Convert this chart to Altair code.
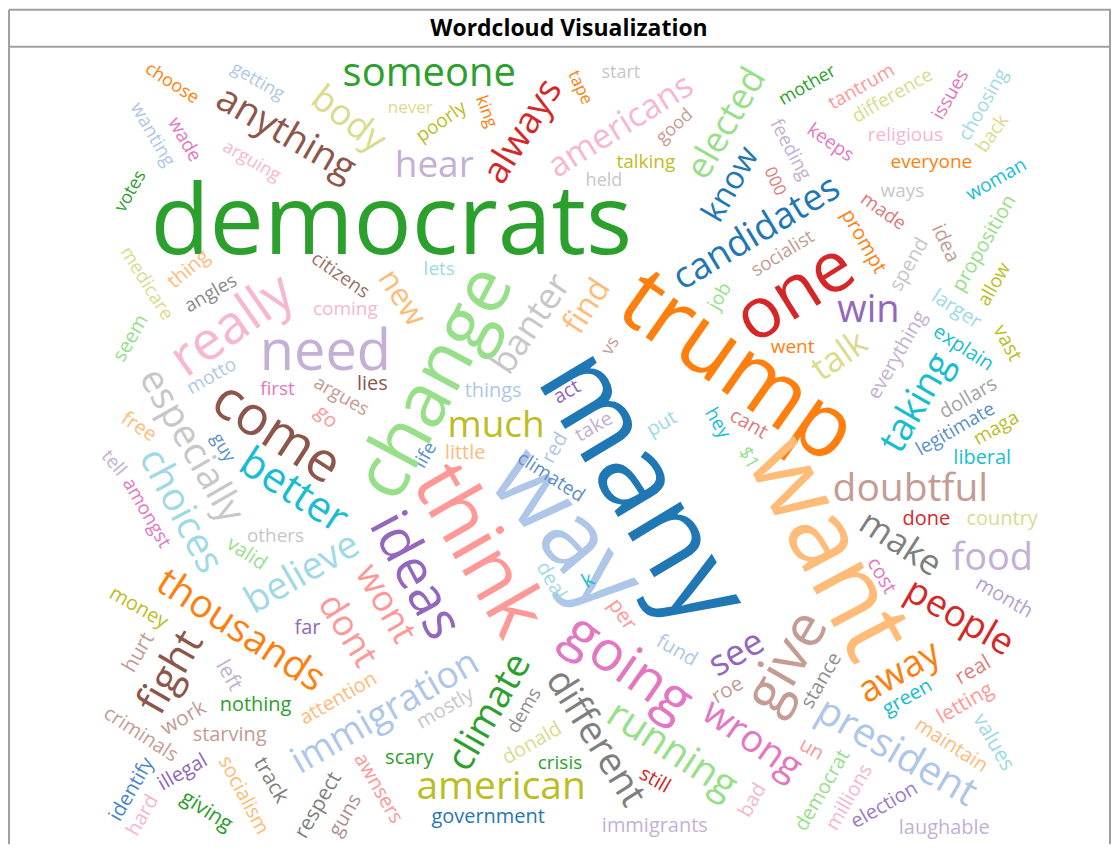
import altair as alt
import pandas as pd

words = ["democrats","someone","choose","getting","anything","body","never","poorly","wanting","wade",
"arguing","votes","hear","start","tape","king","always","americans","good","talking",
"held","elected","know","candidates","000","mother","tantrum","difference","issues","choosing",
"back","feeding","keeps","religious","everyone","woman","ways","made","prompt","spend",
"idea","proposition","allow","socialist","job","medicare","thing","angles","citizens","lets",
"seem","really","need","coming","motto","especially","first","argues","lies","go",
"come","free","guy","better","choices","tell","amongst","others","life","change",
"new","banter","find","trump","one","vs","many","way","things","act",
"much","take","put","little","red","climated","hey","cant","$1","went",
"win","talk","larger","everything","explain","vast","taking","dollars","legitimate","maga",
"liberal","doubtful","done","country","make","food","cost","month","people","want",
"give","stance","away","real","green","letting","president","values","maintain","un",
"democrat","millions","election","laughable","bad","deal","k","per","think","going",
"fund","see","roe","wrong","running","different","still","dems","mostly","climate",
"donald","crisis","american","government","immigrants","valid","believe","ideas","wont","dont",
"thousands","money","far","hurt","fight","left","nothing","attention","immigration","criminals",
"work","starving","scary","identify","illegal","socialism","track","awnsers","hard","giving",
"respect","guns"]

x_pos = [391,429,171,257,285,348,410,441,152,184,
251,130,434,621,580,486,523,621,675,646,
604,727,731,757,775,808,862,893,951,984,
993,791,831,906,932,997,903,884,864,910,
946,985,995,783,720,146,188,210,340,439,
130,232,325,345,211,190,277,341,372,326,
276,138,222,293,180,113,146,275,425,435,
401,531,587,737,796,611,642,565,493,567,
496,594,662,465,555,551,718,749,749,793,
869,840,957,898,964,1008,918,969,956,997,
983,911,927,1003,901,993,882,1005,960,828,
788,822,900,974,908,966,897,994,952,812,
823,850,885,945,753,551,588,622,477,628,
677,737,728,752,672,595,655,524,445,490,
532,560,501,488,655,246,302,415,385,347,
240,138,307,138,170,228,255,338,385,140,
183,229,409,131,182,243,270,378,142,206,
318,345]

y_pos = [224,72,82,80,133,118,106,120,133,138,
160,190,165,71,86,110,130,125,125,161,
180,122,183,232,180,84,85,94,93,103,
132,148,141,133,161,178,190,210,240,263,
242,242,283,252,295,282,268,292,274,268,
337,325,352,308,375,445,388,395,383,416,
432,426,447,490,510,462,512,535,454,382,
297,323,305,367,293,345,488,530,390,391,
425,426,423,452,447,476,422,423,457,346,
310,355,308,354,347,342,402,397,428,427,
457,488,518,518,543,558,575,597,617,548,
662,680,672,670,697,703,752,742,745,749,
790,797,805,828,800,580,580,614,550,667,
650,653,690,740,750,738,780,710,708,712,
743,763,787,817,826,553,573,575,603,630,
630,607,627,652,672,675,705,698,712,734,
718,735,758,789,772,795,780,788,815,811,
805,815]

angles = [0,0,33,30,30,38,0,325,60,60,
30,300,0,0,65,70,302,328,318,0,
0,300,300,329,65,330,330,330,300,300,
305,62,35,0,0,330,0,35,60,300,
65,300,300,328,300,58,320,330,35,0,
300,325,0,0,330,60,0,30,0,45,
33,33,60,33,62,50,60,0,300,298,
57,304,303,35,328,300,59,50,0,330,
0,330,330,0,300,33,60,30,60,0,
0,325,33,300,33,62,300,330,330,330,
0,0,0,0,33,0,60,30,30,62,
300,300,330,330,330,330,30,60,33,30,
300,300,330,0,300,60,330,55,60,35,
30,330,330,35,33,58,30,300,330,300,
330,0,0,0,0,33,330,62,60,58,
33,30,0,300,300,60,0,330,330,33,
330,0,0,300,330,62,60,60,300,33,
300,300]

sizes = [97,40,18,18,38,36,17,19,19,19,
18,18,37,18,17,17,37,34,18,19,
18,36,32,37,17,18,19,19,19,19,
19,19,19,19,19,19,19,19,20,20,
20,20,19,19,19,19,20,19,19,19,
20,54,56,19,19,38,19,19,20,20,
55,20,18,42,39,19,19,19,19,75,
31,36,32,91,71,18,115,97,20,20,
37,20,20,20,20,19,19,20,19,19,
38,35,20,20,20,20,38,20,19,19,
20,39,20,20,35,38,20,20,37,102,
58,20,37,21,20,21,40,21,20,20,
20,20,20,20,20,20,20,21,78,56,
20,36,21,38,40,38,20,19,20,38,
20,19,39,20,20,20,38,55,36,36,
39,20,20,21,42,21,20,20,37,20,
21,20,20,20,20,20,21,20,20,21,
21,20]

colors = ["#2ca02c","#2ca02c","#ff7f0e","#aec7e8","#8c564b","#dbdb8d","#dbdb8d","#bcbd22","#aec7e8","#e377c2",
"#f7b6d2","#2ca02c","#c5b0d5","#c7c7c7","#ff7f0e","#ff7f0e","#d62728","#f7b6d2","#c49c94","#bcbd22",
"#c7c7c7","#98df8a","#1f77b4","#1f77b4","#e07b7b","#2ca02c","#ff9896","#dbdb8d","#e377c2","#9edae5",
"#dbdb8d","#c5b0d5","#e377c2","#f7b6d2","#ff7f0e","#17becf","#c7c7c7","#e07b7b","#ff7f0e","#c7c7c7",
"#c49c94","#98df8a","#bcbd22","#c49c94","#98df8a","#dbdb8d","#ffbb78","#8a8a8a","#9c6f66","#9edae5",
"#98df8a","#f7b6d2","#c5b0d5","#f7b6d2","#aec7e8","#c7c7c7","#e377c2","#c49c94","#8c564b","#ff9896",
"#8c564b","#ffbb78","#5b8fc9","#17becf","#9edae5","#c5b0d5","#e377c2","#c7c7c7","#5b8fc9","#98df8a",
"#ffbb78","#c7c7c7","#ffbb78","#ff7f0e","#d62728","#c49c94","#1f77b4","#aec7e8","#aec7e8","#9467bd",
"#bcbd22","#c5b0d5","#9edae5","#ffbb78","#aec7e8","#5b8fc9","#17becf","#e07b7b","#98df8a","#ff7f0e",
"#9467bd","#dbdb8d","#9edae5","#c5b0d5","#17becf","#bcbd22","#17becf","#a5a5a5","#5b8fc9","#bcbd22",
"#17becf","#c49c94","#d62728","#dbdb8d","#7f7f7f","#c5b0d5","#e377c2","#b7a0cf","#d62728","#ffbb78",
"#c49c94","#8f8f8f","#ff7f0e","#e07b7b","#17becf","#ff9896","#aec7e8","#9edae5","#ffbb78","#ff9896",
"#98df8a","#f7b6d2","#9d7cc4","#c5b0d5","#f7b6d2","#9edae5","#17becf","#ff9896","#ff9896","#e377c2",
"#aec7e8","#9467bd","#c49c94","#e377c2","#98df8a","#7f7f7f","#d62728","#8f8f8f","#c7c7c7","#2ca02c",
"#dbdb8d","#2ca02c","#bcbd22","#1f77b4","#c5b0d5","#98df8a","#9edae5","#9467bd","#ff9896","#ff9896",
"#ff7f0e","#bcbd22","#9467bd","#c49c94","#8c564b","#c5b0d5","#2ca02c","#ffbb78","#aec7e8","#c49c94",
"#c49c94","#c49c94","#2ca02c","#4a86c5","#9467bd","#ffbb78","#7f7f7f","#ff9896","#f7b6d2","#2ca02c",
"#7f7f7f","#b0918a"]

title_text = ["Wordcloud Visualization"]

W, H = 1104, 836
FONT = "Open Sans"

df = pd.DataFrame({"word": words, "x": x_pos, "y": y_pos,
                   "angle": angles, "size": sizes, "color": colors})

one = pd.DataFrame({"t": title_text})

frame_color = "#a0a0a0"
left = alt.Chart(one).mark_rule(color=frame_color, strokeWidth=2).encode(
    x=alt.value(0), y=alt.value(0), y2=alt.value(H))
right = alt.Chart(one).mark_rule(color=frame_color, strokeWidth=2).encode(
    x=alt.value(W - 1), y=alt.value(0), y2=alt.value(H))
top = alt.Chart(one).mark_rule(color=frame_color, strokeWidth=2).encode(
    y=alt.value(0), x=alt.value(0), x2=alt.value(W))
sep = alt.Chart(one).mark_rule(color=frame_color, strokeWidth=2).encode(
    y=alt.value(37), x=alt.value(0), x2=alt.value(W))

title = alt.Chart(one).mark_text(font=FONT, fontWeight="bold", fontSize=23,
                                 color="#000000", align="center", baseline="middle").encode(
    x=alt.value(561), y=alt.value(19), text="t:N")

cloud = alt.Chart(df).mark_text(font=FONT, align="center", baseline="middle").encode(
    x=alt.X("x:Q", scale=alt.Scale(domain=[8, 8 + W]), axis=None),
    y=alt.Y("y:Q", scale=alt.Scale(domain=[8, 8 + H], reverse=True), axis=None),
    text="word:N",
    size=alt.Size("size:Q", scale=None, legend=None),
    angle=alt.Angle("angle:Q", scale=None),
    color=alt.Color("color:N", scale=None, legend=None),
)

chart = alt.layer(left, right, top, sep, title, cloud).properties(
    width=W, height=H, padding=0, background="white"
).configure_view(stroke=None)

chart.save("out.html", embed_options={"renderer": "svg", "actions": False})
